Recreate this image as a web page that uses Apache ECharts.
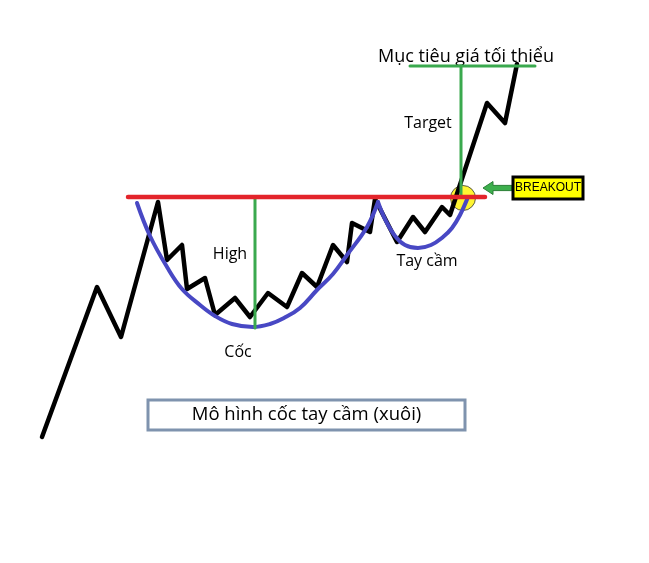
<!DOCTYPE html>
<html><head><meta charset="utf-8">
<script src="https://cdn.jsdelivr.net/npm/echarts@6/dist/echarts.min.js"></script>
<style>html,body{margin:0;padding:0;background:#fff}#c{width:649px;height:563px}</style>
</head><body><div id="c"></div>
<script>
// time (x) / price (y) pairs of the price path
const pricePath = [[42,126],[97,276],[121,226],[158,361],[167,303],[182,318],[187,274],[205,285],[215,248],[235,265],[250,246],[268,270],[287,256],[302,290],[317,276],[333,318],[347,301],[352,340],[370,331],[375,364],[397,321],[413,346],[425,331],[442,356],[450,348],[487,460],[505,440],[517,499]];
const cupCurve = [[137,360],[150,327],[167,296],[182,274],[200,258],[215,247],[232,239],[253,236],[270,239],[284,245],[300,255],[317,273],[333,289],[347,308],[367,336],[378,361]];
const handleCurve = [[378,361],[385,344],[395,327],[405,318],[418,315],[431,318],[443,326],[452,335],[460,348],[468,366]];
const resistance = [[128,366],[485,366]];
const cupDepth = [[255,366],[255,235]];
const targetLine = [[461,366],[461,497]];
const targetLevel = [[410,497],[535,497]];
const breakoutPoint = [[463,365]];
// x, price, text, font size
const textLabels = [[466,506,'Mục tiêu giá tối thiểu',18],[428,440,'Target',16],[230,309,'High',16],[238,211,'Cốc',16],[427,302,'Tay cầm',16]];
// arrow: tip x, tail x, price
const arrowSpan = [[483,512,375]];
// boxes: x0, price0, x1, price1, text
const breakoutBox = [[513,386,583,364,'BREAKOUT']];
const titleBox = [[148,163,465,133,'Mô hình cốc tay cầm (xuôi)']];

const chart = echarts.init(document.getElementById('c'));
const lineS = (data, color, width, smooth) => ({type:'line', data, smooth: smooth||false, symbol:'none', lineStyle:{color, width, cap:'round', join:'round'}, silent:true});
const boxSeries = (data, fill, stroke, sw, fontSize, font, color) => ({
  type:'custom', data,
  renderItem:(params, api) => {
    const p0 = api.coord([api.value(0), api.value(1)]);
    const p1 = api.coord([api.value(2), api.value(3)]);
    const text = data[params.dataIndex][4];
    return {type:'group', children:[
      {type:'rect', shape:{x:p0[0], y:p0[1], width:p1[0]-p0[0], height:p1[1]-p0[1]}, style:{fill, stroke, lineWidth:sw}},
      {type:'text', x:(p0[0]+p1[0])/2, y:(p0[1]+p1[1])/2, style:{text, fill:color, fontSize, fontFamily:font, align:'center', verticalAlign:'middle'}}
    ]};
  }
});
chart.setOption({
  animation:false,
  grid:{left:0,right:0,top:0,bottom:0},
  xAxis:{type:'value',min:0,max:649,show:false},
  yAxis:{type:'value',min:0,max:563,show:false},
  series:[
    {type:'scatter', data:breakoutPoint, symbol:'circle', symbolSize:25, itemStyle:{color:'#FFF200', borderColor:'#333', borderWidth:1}},
    lineS(pricePath,'#000',4.5),
    lineS(cupCurve,'#4848C4',4,0.4),
    lineS(handleCurve,'#4848C4',4,0.4),
    lineS(cupDepth,'#3AA94E',3),
    lineS(targetLine,'#3AA94E',3),
    lineS(targetLevel,'#3AA94E',3),
    lineS(resistance,'#E3242B',4.5),
    {type:'custom', data:arrowSpan, renderItem:(params, api) => {
      const tip = api.coord([api.value(0), api.value(2)]);
      const tail = api.coord([api.value(1), api.value(2)]);
      const h = 6.5, s = 2.6, hl = 10;
      const y = tip[1];
      return {type:'polygon', shape:{points:[[tip[0],y],[tip[0]+hl,y-h],[tip[0]+hl,y-s],[tail[0],y-s],[tail[0],y+s],[tip[0]+hl,y+s],[tip[0]+hl,y+h]]},
        style:{fill:'#3DAF4D', stroke:'#2A7F36', lineWidth:1}};
    }},
    boxSeries(breakoutBox,'#FFFF00','#000',3,12,'Liberation Sans Narrow, Liberation Sans, sans-serif','#000'),
    boxSeries(titleBox,'#fff','#7F93AE',3,18.5,'Open Sans, sans-serif','#000'),
    {type:'custom', data:textLabels, renderItem:(params, api) => {
      const d = textLabels[params.dataIndex];
      const p = api.coord([d[0], d[1]]);
      return {type:'text', x:p[0], y:p[1], style:{text:d[2], fontSize:d[3], fill:'#000', fontFamily:'Open Sans, sans-serif', align:'center', verticalAlign:'middle'}};
    }}
  ]
});
</script></body></html>
